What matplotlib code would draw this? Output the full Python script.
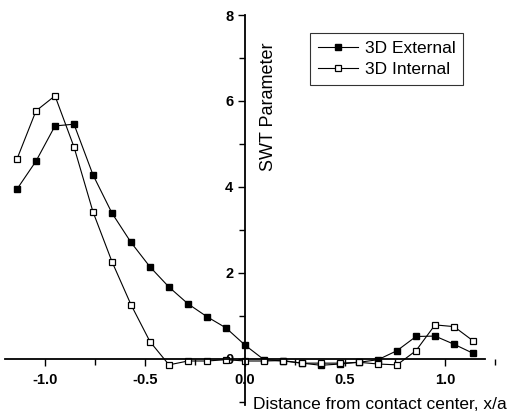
import numpy as np
import matplotlib
matplotlib.use("Agg")
import matplotlib.pyplot as plt
from matplotlib.ticker import MultipleLocator

plt.rcParams['font.family'] = ['Liberation Sans', 'DejaVu Sans']

# x/a positions (25 stations)
xa = [-1.14, -1.045, -0.95, -0.855, -0.76, -0.665, -0.57, -0.475, -0.38, -0.285,
      -0.19, -0.095, 0.0, 0.095, 0.19, 0.285, 0.38, 0.475, 0.57, 0.665,
      0.76, 0.855, 0.95, 1.045, 1.14]

swt_external = [3.95, 4.6, 5.42, 5.46, 4.28, 3.39, 2.71, 2.14, 1.67, 1.28,
                0.98, 0.72, 0.32, -0.02, -0.05, -0.1, -0.15, -0.12, -0.08, -0.02,
                0.19, 0.52, 0.53, 0.34, 0.13]

swt_internal = [4.65, 5.77, 6.12, 4.93, 3.42, 2.26, 1.26, 0.4, -0.14, -0.05,
                -0.05, -0.02, -0.05, -0.05, -0.04, -0.1, -0.1, -0.1, -0.08, -0.12,
                -0.14, 0.19, 0.79, 0.75, 0.42]

fig = plt.figure(figsize=(5.13, 4.16), dpi=100)
ax = fig.add_axes([0, 0, 1, 1])

ax.plot(xa, swt_external, '-', color='black', lw=0.8, marker='s', ms=5,
        mfc='black', mec='black', label='3D External')
ax.plot(xa, swt_internal, '-', color='black', lw=0.8, marker='s', ms=5,
        mfc='white', mec='black', mew=0.9, label='3D Internal')

ax.set_xlim(-1.225, 1.34)
ax.set_ylim(-1.33, 8.35)

ax.spines['top'].set_visible(False)
ax.spines['right'].set_visible(False)
ax.spines['left'].set_position(('data', 0))
ax.spines['bottom'].set_position(('data', 0))
ax.spines['left'].set_bounds(-1.07, 8)
ax.spines['bottom'].set_bounds(-1.2, 1.2)
ax.spines['left'].set_linewidth(1.3)
ax.spines['bottom'].set_linewidth(1.3)

ax.xaxis.set_minor_locator(MultipleLocator(0.25))
ax.yaxis.set_minor_locator(MultipleLocator(1))
ax.set_yticks([0, 2, 4, 6, 8])
ax.set_yticklabels(['0', '2', '4', '6', '8'])
ax.set_xticks([-1.0, -0.5, 0.0, 0.5, 1.0])
ax.set_xticklabels(['-1.0', '-0.5', '0.0', '0.5', '1.0'])
ax.tick_params(which='major', direction='out', length=5, width=1, labelsize=10.5)
ax.tick_params(axis='x', which='major', pad=5)
ax.tick_params(which='minor', direction='out', length=4, width=1)
for t in ax.get_xticklabels() + ax.get_yticklabels():
    t.set_fontweight('bold')

ax.text(0.12, 5.86, 'SWT Parameter', rotation=90, fontsize=13,
        ha='center', va='center')
ax.text(0.04, -1.07, 'Distance from contact center, x/a', fontsize=12.5,
        ha='left', va='center')

leg = ax.legend(loc='upper left', bbox_to_anchor=(0.604, 0.921), fontsize=12.5,
                frameon=True, fancybox=False, edgecolor='black',
                handlelength=2.3, handletextpad=0.4, borderpad=0.45,
                labelspacing=0.35, borderaxespad=0)
leg.get_frame().set_linewidth(0.8)

fig.savefig('out.png', dpi=100)
